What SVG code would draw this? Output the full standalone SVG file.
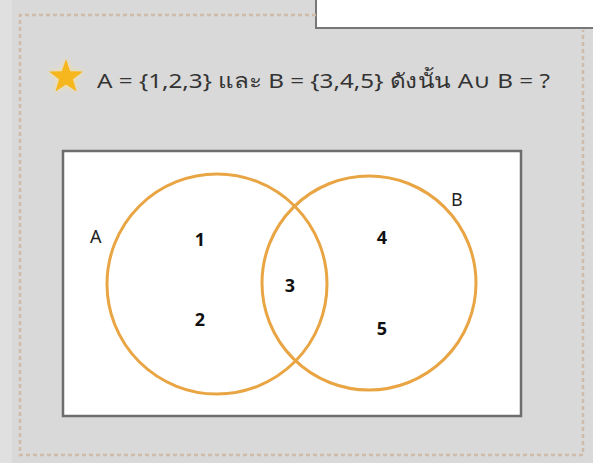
<svg xmlns="http://www.w3.org/2000/svg" width="593" height="463" viewBox="0 0 593 463">
<defs>
<style>
.title{font-family:"Noto Sans","DejaVu Sans",sans-serif;font-size:20px;fill:#333}
.lbl{font-family:"Noto Sans","DejaVu Sans",sans-serif;font-size:18px;fill:#222}
.num{font-family:"Noto Sans","DejaVu Sans",sans-serif;font-size:18px;font-weight:bold;fill:#111;text-anchor:middle}
.set{fill:none;stroke:#e9a544;stroke-width:3}
.dash{fill:none;stroke:#cfbba8;stroke-width:2.5;stroke-dasharray:4 3}
</style>
<filter id="glow" x="-50%" y="-50%" width="200%" height="200%">
<feGaussianBlur stdDeviation="2.5"/>
</filter>
</defs>
<rect x="0" y="0" width="593" height="463" fill="#d9d9d9"/>
<rect x="0" y="0" width="12" height="463" fill="#e0e0e0"/>
<g id="tab">
<rect x="316" y="-2" width="280" height="30" fill="#ffffff" stroke="#777" stroke-width="2"/>
</g>
<g id="frame">
<polyline class="dash" points="316,15 20,15 20,455 583,455 583,30"/>
</g>
<g id="star">
<polygon points="66,59 70.2,71.2 83.1,71.4 72.9,79.3 76.6,91.6 66,84.4 55.4,91.6 59.1,79.3 48.9,71.4 61.8,71.2" fill="#fde28a" filter="url(#glow)"/>
<polygon points="66,59 70.2,71.2 83.1,71.4 72.9,79.3 76.6,91.6 66,84.4 55.4,91.6 59.1,79.3 48.9,71.4 61.8,71.2" fill="#f6b61e"/>
</g>
<g id="question">
<text class="title" x="97" y="88" textLength="453" lengthAdjust="spacingAndGlyphs">A = {1,2,3} และ B = {3,4,5} ดังนั้น A∪ B = ?</text>
</g>
<g id="universe">
<rect x="63" y="151" width="458" height="265" fill="#ffffff" stroke="#6e6e6e" stroke-width="2.5"/>
</g>
<g id="setA">
<circle class="set" cx="217" cy="284" r="110"/>
<text class="lbl" x="90" y="243">A</text>
</g>
<g id="setB">
<circle class="set" cx="369" cy="283" r="107"/>
<text class="lbl" x="451" y="206">B</text>
</g>
<g id="elements">
<text class="num" x="200" y="246">1</text>
<text class="num" x="200" y="326">2</text>
<text class="num" x="290" y="292">3</text>
<text class="num" x="382" y="244">4</text>
<text class="num" x="382" y="335">5</text>
</g>
<g id="connectors"></g>
</svg>
